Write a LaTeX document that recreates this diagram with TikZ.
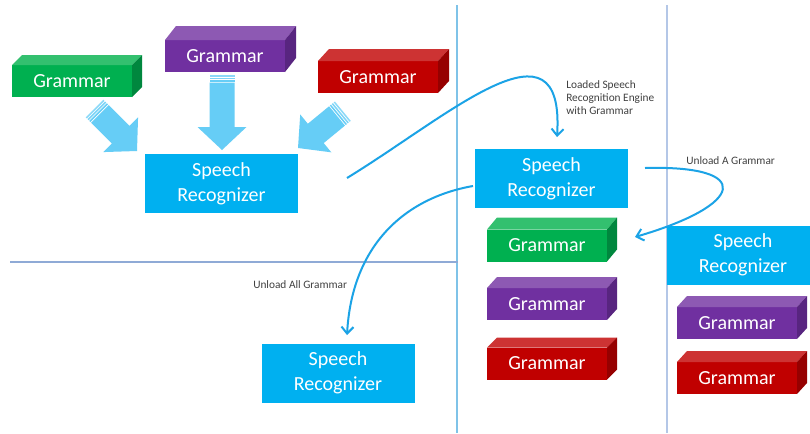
\documentclass[tikz,border=0pt]{standalone}
\usepackage{fontspec}
\setmainfont{Carlito}
\usetikzlibrary{arrows.meta}
\definecolor{srblue}{RGB}{0,176,240}
\definecolor{gfront}{RGB}{0,176,80}
\definecolor{gtop}{RGB}{51,192,111}
\definecolor{gside}{RGB}{0,135,62}
\definecolor{pfront}{RGB}{112,48,160}
\definecolor{ptop}{RGB}{141,89,179}
\definecolor{pside}{RGB}{88,37,128}
\definecolor{rfront}{RGB}{192,0,0}
\definecolor{rtop}{RGB}{205,51,51}
\definecolor{rside}{RGB}{150,0,0}
\definecolor{barrowc}{RGB}{102,205,246}
\definecolor{curvec}{RGB}{27,163,230}
\definecolor{divA}{RGB}{127,195,232}
\definecolor{divB}{RGB}{180,199,231}
\definecolor{divH}{RGB}{143,170,214}
\definecolor{labelc}{RGB}{64,64,64}
\tikzset{
  gram/.style={minimum width=90pt, minimum height=24pt, inner sep=0pt, outer sep=0pt,
    text=white, font=\fontsize{15}{18}\selectfont},
  srbox/.style={fill=srblue, minimum width=114.75pt, minimum height=44.25pt, inner sep=0pt,
    outer sep=0pt, text=white, align=center, font=\fontsize{15}{18.75}\selectfont},
  lbl/.style={text=labelc, align=left, inner sep=0pt, anchor=west,
    font=\fontsize{8.5}{9.75}\selectfont},
  flow/.style={draw=curvec, line width=1.5pt, -{Straight Barb[length=5pt,width=9pt,line width=1.5pt]}},
  barrow/.style={fill=barrowc}
}
% name, cx, cy, dx, dy, colour prefix
\newcommand{\gbox}[6]{%
  \node[gram, fill=#6front] (#1) at (#2,#3) {Grammar};
  \fill[#6top] (#1.north west) -- ++(#4,-#5) -- ++(120,0) -- (#1.north east) -- cycle;
  \fill[#6side] (#1.north east) -- ++(#4,-#5) -- ++(0,32) -- (#1.south east) -- cycle;
}
% tip x, tip y, angle, length
\newcommand{\blockarrow}[4]{%
  \begin{scope}[shift={(#1,#2)}, rotate=#3]
    \fill[barrow] (0,0) -- (-23,24.5) -- (-23,12.5) -- (-#4+7.5,12.5) -- (-#4+7.5,-12.5)
      -- (-23,-12.5) -- (-23,-24.5) -- cycle;
    \fill[barrow, opacity=0.75] (-#4,12.5) rectangle (-#4+1.5,-12.5);
    \fill[barrow, opacity=0.85] (-#4+2.5,12.5) rectangle (-#4+4,-12.5);
    \fill[barrow] (-#4+5,12.5) rectangle (-#4+6.5,-12.5);
  \end{scope}
}
\begin{document}
\begin{tikzpicture}[x=0.75pt, y=-0.75pt]
\path[use as bounding box] (0,0) rectangle (810,433);
\clip (0,0) rectangle (810,433);
\fill[white] (0,0) rectangle (810,433);

% dividers
\draw[divA, line width=0.9pt] (457,5) -- (457,433);
\draw[divB, line width=1.2pt] (667,5) -- (667,433);
\draw[divH, line width=0.9pt] (10,262) -- (458,262);

% top-left group
\gbox{g1}{72}{81}{10}{10}{g}
\gbox{p1}{225}{56}{11}{14}{p}
\gbox{r1}{378}{77}{11}{12}{r}
\node[srbox] (s1) at (221.5,183.5) {Speech\\Recognizer};
\blockarrow{137}{151}{-45}{60}
\blockarrow{222}{150}{-90}{75}
\blockarrow{298}{148}{-140.6}{58}

% middle column
\node[srbox] (s2) at (551.5,178.5) {Speech\\Recognizer};
\gbox{g2}{547}{245.5}{10}{12}{g}
\gbox{p2}{547}{304}{10}{11}{p}
\gbox{r2}{547}{363.5}{10}{10}{r}

% right column
\node[srbox] (s3) at (743,255) {Speech\\Recognizer};
\gbox{p3}{737}{323}{10}{11}{p}
\gbox{r3}{737}{378}{10}{11}{r}

% bottom
\node[srbox] (s4) at (338,373) {Speech\\Recognizer};

% labels
\node[lbl] (l1) at (566,98) {Loaded Speech\\Recognition Engine\\with Grammar};
\node[lbl] (l2) at (686,161) {Unload A Grammar};
\node[lbl] (l3) at (253,285) {Unload All Grammar};

% curved connectors
\coordinate (c1a) at (347,178);
\coordinate (c1b) at (557,137);
\coordinate (c2a) at (645,168);
\coordinate (c2b) at (635,237);
\coordinate (c3a) at (473,186);
\coordinate (c3b) at (347,335);
\draw[flow] (c1a) .. controls (450,115) and (565,10) .. (c1b);
\draw[flow] (c2a) .. controls (755,165) and (745,205) .. (c2b);
\draw[flow] (c3a) .. controls (405,198) and (352,245) .. (c3b);
\end{tikzpicture}
\end{document}
